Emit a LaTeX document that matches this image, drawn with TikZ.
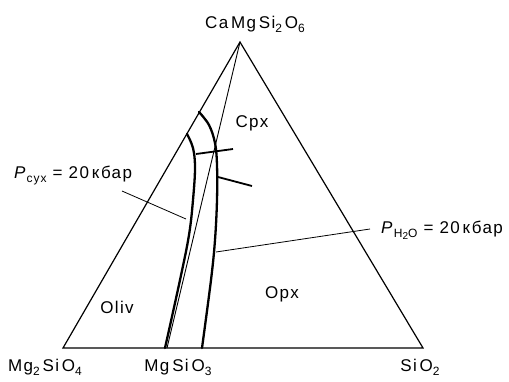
\documentclass[tikz,border=0pt]{standalone}
\usepackage{fontspec}
\setmainfont[LetterSpace=8]{Liberation Sans}
\newcommand\lsub[1]{\raisebox{-0.45ex}{\fontsize{12}{12}\selectfont #1}}
\newcommand\llsub[1]{\raisebox{-0.4ex}{\fontsize{10}{10}\selectfont #1}}
\begin{document}
\begin{tikzpicture}[x=1pt,y=-1pt,
  tri/.style={line width=1.2pt, line join=miter},
  phase/.style={line width=2.3pt, line cap=round},
  tickl/.style={line width=1.8pt},
  joinl/.style={line width=0.9pt},
  lead/.style={line width=0.8pt},
  lab/.style={font=\fontsize{17}{17}\selectfont, inner sep=0pt, anchor=base}]
\useasboundingbox (0,0) rectangle (509,381);
% triangle corners
\coordinate (A) at (240,42);
\coordinate (L) at (63,348);
\coordinate (M) at (167,348);
\coordinate (R) at (423,348);
\draw[tri] (L) -- (A) -- (R) -- cycle;
\draw[joinl] (A) -- (M);
% dry boundary
\draw[phase] plot[smooth, tension=0.6] coordinates
  {(187,134) (193,148) (195,168) (193,200) (189,235) (180,280) (165,348)};
% wet boundary
\draw[phase] plot[smooth, tension=0.6] coordinates
  {(199,112) (209,125) (215,143) (217,165) (217,200) (215,240) (211,280) (202,348)};
% ticks
\draw[tickl] (196,154) -- (233,149);
\draw[tickl] (218,177) -- (252,186);
% labels
\node[lab] (top) at (255,28) {Ca\,Mg\,Si\lsub{2}\,O\lsub{6}};
\node[lab] (cpx) at (252,127) {Cpx};
\node[lab] (oliv) at (117,313) {Oliv};
\node[lab] (opx) at (282,298) {Opx};
\node[lab] (fo) at (45,371) {Mg\lsub{2}\,Si\,O\lsub{4}};
\node[lab] (en) at (178,371) {Mg\,Si\,O\lsub{3}};
\node[lab] (q) at (420,371) {Si\,O\lsub{2}};
\node[lab] (pdry) at (73,178) {\textit{P}\lsub{сух} = 20\,кбар};
\node[lab] (pwet) at (442,233) {\textit{P}\lsub{H\llsub{2}O} = 20\,кбар};
% leaders
\coordinate (pd1) at (122,191);
\coordinate (pd2) at (186,219);
\draw[lead] (pd1) -- (pd2);
\coordinate (pw1) at (370,229);
\coordinate (pw2) at (216,252);
\draw[lead] (pw1) -- (pw2);
\end{tikzpicture}
\end{document}
